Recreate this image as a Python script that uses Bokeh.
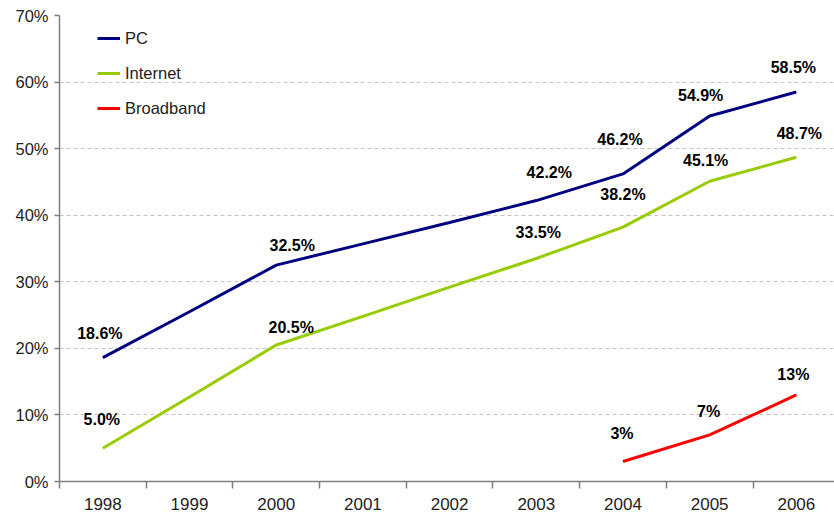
from bokeh.plotting import figure
from bokeh.models import ColumnDataSource, FixedTicker, Range1d, Legend, LegendItem
from bokeh.core.properties import value
from bokeh.embed import file_html
from bokeh.resources import INLINE

years = ["1998", "1999", "2000", "2001", "2002", "2003", "2004", "2005", "2006"]
pc = [18.6, 25.5, 32.5, 35.7, 38.9, 42.2, 46.2, 54.9, 58.5]
internet = [5.0, 12.7, 20.5, 24.8, 29.2, 33.5, 38.2, 45.1, 48.7]
broadband_years = ["2004", "2005", "2006"]
broadband = [3, 7, 13]
y_ticks = [0, 10, 20, 30, 40, 50, 60, 70]

# label placement nudges (pixels), style only
pc_dx = [-3, 0, 16, 0, 0, 13, -3, -9, -3]
pc_dy = [24, 0, 20, 0, 0, 28, 34, 21, 25]
pc_show = [True, False, True, False, False, True, True, True, True]
in_dx = [-1, 0, 15, 0, 0, 2, 0, -4, 3]
in_dy = [29, 0, 18, 0, 0, 26, 33, 21, 24]
in_show = [True, False, True, False, False, True, True, True, True]
bb_dx = [-1, -1, -3]
bb_dy = [28, 23, 20]

FONT = "Liberation Sans"

xi = {y: i for i, y in enumerate(years)}

p = figure(width=834, height=518, output_backend="svg", toolbar_location=None,
           x_range=Range1d(-0.5, 8.44), y_range=Range1d(0, 70),
           min_border_left=59, min_border_top=15, min_border_bottom=37, min_border_right=0)
p.outline_line_color = None
p.background_fill_color = "white"
p.border_fill_color = "white"

pc_src = ColumnDataSource(dict(x=[xi[y] for y in years], y=pc))
in_src = ColumnDataSource(dict(x=[xi[y] for y in years], y=internet))
bb_src = ColumnDataSource(dict(x=[xi[y] for y in broadband_years], y=broadband))

r_pc = p.line("x", "y", source=pc_src, line_color="#000080", line_width=3)
r_in = p.line("x", "y", source=in_src, line_color="#99CC00", line_width=3)
r_bb = p.line("x", "y", source=bb_src, line_color="#FF0000", line_width=3)

def labels(xs, ys, fmt, dx, dy, show):
    d = dict(x=[], y=[], t=[], dx=[], dy=[])
    for x, y, a, b, s in zip(xs, ys, dx, dy, show):
        if s:
            d["x"].append(x); d["y"].append(y); d["t"].append(fmt.format(y))
            d["dx"].append(a); d["dy"].append(-b)
    src = ColumnDataSource(d)
    p.text("x", "y", text="t", source=src, x_offset="dx", y_offset="dy",
           text_font=value(FONT), text_font_size="16px", text_font_style="bold",
           text_color="black", text_align="center", text_baseline="middle")

labels([xi[y] for y in years], pc, "{:.1f}%", pc_dx, pc_dy, pc_show)
labels([xi[y] for y in years], internet, "{:.1f}%", in_dx, in_dy, in_show)
labels([xi[y] for y in broadband_years], broadband, "{:.0f}%", bb_dx, bb_dy, [True] * 3)

# axes
xa = p.xaxis[0]
xa.ticker = FixedTicker(ticks=list(range(len(years))),
                        minor_ticks=[i - 0.5 for i in range(len(years) + 1)])
xa.major_label_overrides = {i: y for i, y in enumerate(years)}
xa.major_tick_line_color = None
xa.minor_tick_line_color = "#808080"
xa.minor_tick_out = 7
xa.minor_tick_in = 0
xa.minor_tick_line_width = 1.5
xa.axis_line_color = "#808080"
xa.axis_line_width = 1.5
xa.major_label_text_font = FONT
xa.major_label_text_font_size = "17px"
xa.major_label_text_color = "#222222"
xa.major_label_standoff = 9

ya = p.yaxis[0]
ya.ticker = FixedTicker(ticks=y_ticks)
ya.major_label_overrides = {v: f"{v}%" for v in y_ticks}
ya.major_tick_line_color = "#808080"
ya.major_tick_out = 5
ya.major_tick_in = 0
ya.major_tick_line_width = 1.5
ya.minor_tick_line_color = None
ya.axis_line_color = "#808080"
ya.axis_line_width = 1.5
ya.major_label_text_font = FONT
ya.major_label_text_font_size = "16.5px"
ya.major_label_text_color = "#222222"
ya.major_label_standoff = 6

p.xgrid.grid_line_color = None
p.ygrid.grid_line_color = "#C4C4C4"
p.ygrid.grid_line_dash = "4 3"
p.ygrid.grid_line_width = 1

legend = Legend(items=[LegendItem(label="PC", renderers=[r_pc]),
                       LegendItem(label="Internet", renderers=[r_in]),
                       LegendItem(label="Broadband", renderers=[r_bb])],
                location=(38, 363), padding=0, margin=0, spacing=15,
                glyph_width=23, glyph_height=20, label_height=20, label_standoff=5,
                border_line_color=None, background_fill_alpha=0,
                label_text_font=FONT, label_text_font_size="16.5px",
                label_text_color="#222222")
p.add_layout(legend, "center")

open("out.html", "w").write(file_html(p, INLINE))
